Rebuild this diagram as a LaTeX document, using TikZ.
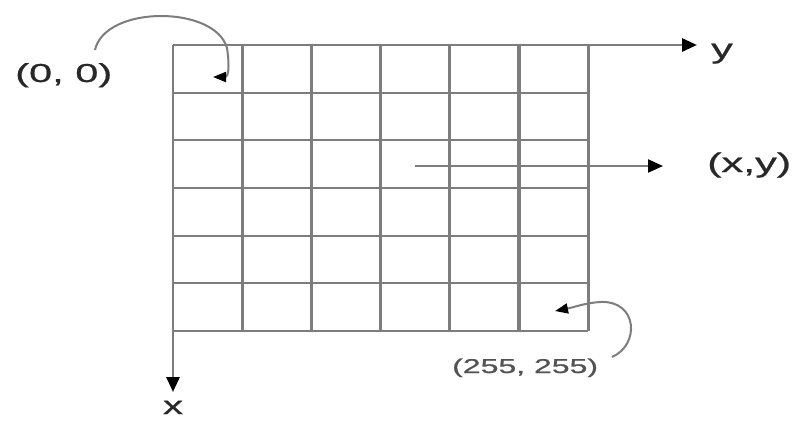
\documentclass[tikz,border=0pt]{standalone}
\usepackage{fontspec}
\setmainfont{Liberation Sans}
\newfontfamily\widefont[FakeStretch=1.6,FakeBold=0.8]{Liberation Sans}
\usetikzlibrary{positioning, arrows.meta}
\definecolor{gridgray}{RGB}{125,125,125}
\definecolor{textgray}{RGB}{40,40,40}

\begin{document}
\begin{tikzpicture}[
		x=1pt, y=-1pt,
		gridline/.style={gridgray, line width=2.2pt},
		gridcol/.style={gridgray, line width=3.2pt},
		axis/.style={gridgray, line width=2.8pt, -{Triangle[length=15pt,width=13pt,color=black]}},
		pointer/.style={gridgray, line width=2pt, -{Triangle[length=13pt,width=10pt,color=black]}},
		label style/.style={font=\widefont, text=textgray, inner sep=0pt}
		]
		\useasboundingbox (0,0) rectangle (794,421);
		
		% Grid
		\foreach \i in {1,...,6}
		\draw[gridline] (173,{45+47.67*\i}) -- (588,{45+47.67*\i});
		\foreach \i in {1,...,6}
		\draw[gridcol] ({173+69.2*\i},45) -- ({173+69.2*\i},331);
		
		% Axes
		\coordinate (origin) at (173,45);
		\coordinate (yend) at (697,45);
		\coordinate (xend) at (173,392);
		\draw[axis] (origin) -- (yend);
		\draw[axis] (origin) -- (xend);
		\node[label style, font=\widefont\fontsize{27}{30}\selectfont, anchor=base west] (ylab) at (711,58) {y};
		\node[label style, font=\widefont\fontsize{25}{30}\selectfont, anchor=base] (xlab) at (173,414) {x};
		
		% Pixel (x,y)
		\coordinate (ptail) at (415,166);
		\coordinate (ptip) at (663,166);
		\draw[axis, line width=2.2pt] (ptail) -- (ptip);
		\node[label style, font=\widefont\fontsize{27}{30}\selectfont, anchor=base west] (xylab) at (707,172) {(x,y)};
		
		% First pixel
		\node[label style, font=\widefont\fontsize{26}{28}\selectfont, anchor=base west] (zerolab) at (15,82) {(0, 0)};
		\coordinate (zerotail) at (95,50);
		\coordinate (zerotip) at (213,77);
		\draw[pointer] (zerotail) .. controls (105,5) and (215,5) .. (227,48)
			.. controls (230,68) and (228,77) .. (zerotip);
		
		% Last pixel
		\node[label style, font=\widefont\fontsize{20}{22}\selectfont, anchor=base west, text=textgray!80] (maxlab) at (452,373) {(255, 255)};
		\coordinate (maxtail) at (612,357);
		\coordinate (maxtip) at (555,311);
		\draw[pointer] (maxtail) .. controls (640,345) and (638,300) .. (600,302)
			.. controls (585,303) and (575,307) .. (maxtip);
		
	\end{tikzpicture}
\end{document}
